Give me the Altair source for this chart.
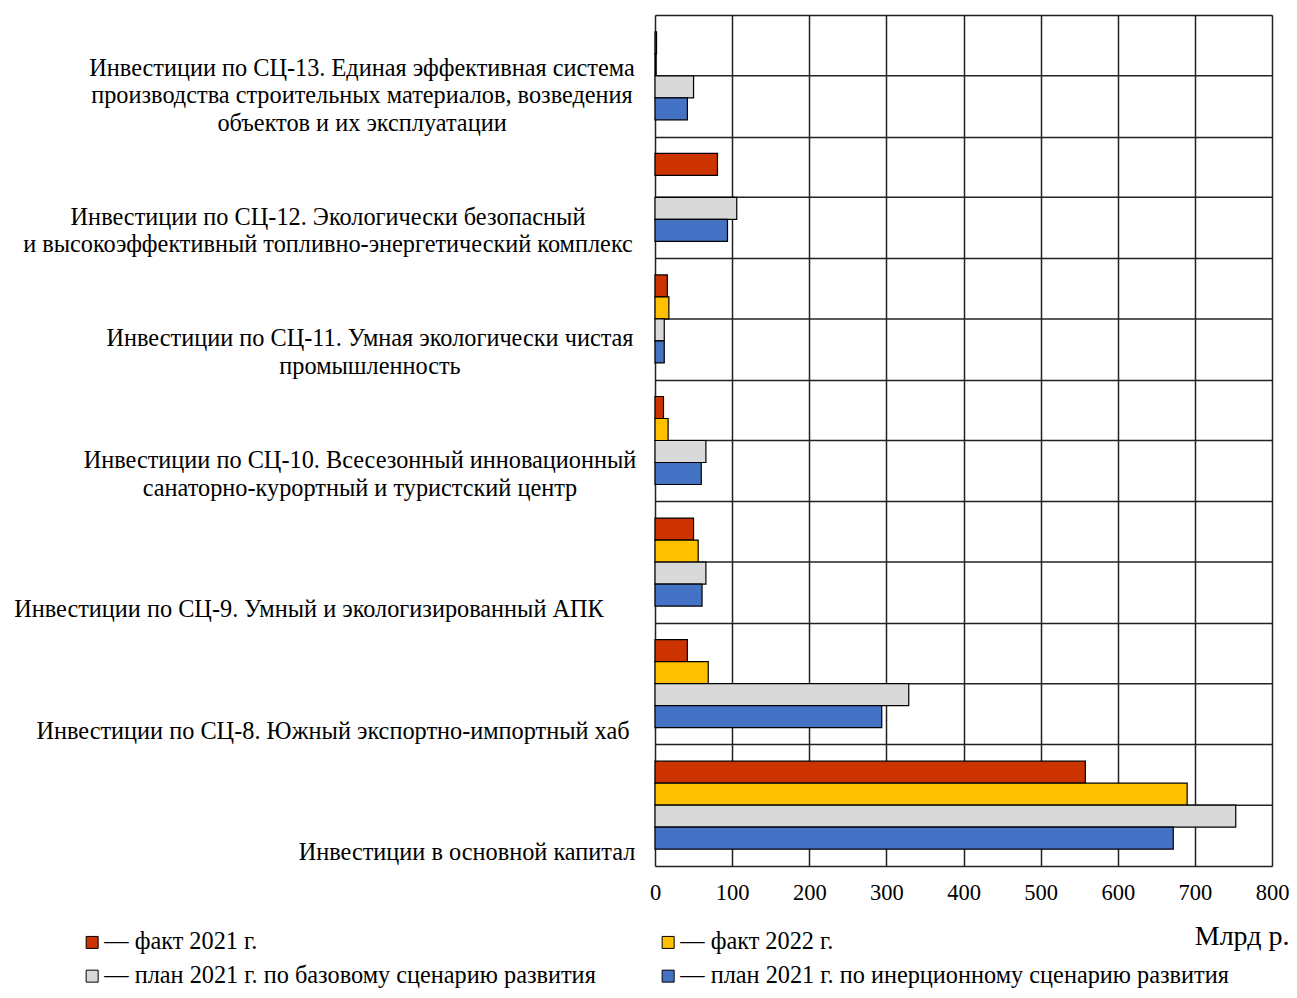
import altair as alt
import pandas as pd

categories = [
    "Инвестиции по СЦ-13. Единая эффективная система\nпроизводства строительных материалов, возведения\nобъектов и их эксплуатации",
    "Инвестиции по СЦ-12. Экологически безопасный\nи высокоэффективный топливно-энергетический комплекс",
    "Инвестиции по СЦ-11. Умная экологически чистая\nпромышленность",
    "Инвестиции по СЦ-10. Всесезонный инновационный\nсанаторно-курортный и туристский центр",
    "Инвестиции по СЦ-9. Умный и экологизированный АПК",
    "Инвестиции по СЦ-8. Южный экспортно-импортный хаб",
    "Инвестиции в основной капитал",
]
series = [
    "— факт 2021 г.",
    "— факт 2022 г.",
    "— план 2021 г. по базовому сценарию развития",
    "— план 2021 г. по инерционному сценарию развития",
]
fact_2021 = [2, 81, 16, 11, 50, 42, 558]
fact_2022 = [1.5, None, 18, 17, 56, 69, 690]
plan_base = [50, 106, 12, 66, 66, 329, 753]
plan_inert = [42, 94, 12, 60, 61, 294, 672]
colors = ["#CC3300", "#FFC000", "#D9D9D9", "#4472C4"]
x_ticks = [0, 100, 200, 300, 400, 500, 600, 700, 800]

# layout (not data): horizontal centre of each category label block, px from plot left
label_centers = [-293, -327, -285, -295, -346, -322, -188]

FONT = "Liberation Serif"
FS = 24.3
LH = 27.5
W, H = 617, 851

rows = []
for vals, s in zip([fact_2021, fact_2022, plan_base, plan_inert], series):
    for c, v in zip(categories, vals):
        if v is not None:
            rows.append({"cat": c, "series": s, "value": v})
df = pd.DataFrame(rows)
df_cat = pd.DataFrame({"cat": categories})

y_axis = alt.Axis(labels=False, ticks=False, domain=False, grid=True, tickBand="extent",
                  gridColor="#222", gridWidth=1.5, title=None)
y_enc = alt.Y("cat:N", sort=categories, scale=alt.Scale(paddingInner=0, paddingOuter=0), axis=y_axis)

bars = alt.Chart(df).mark_bar(stroke="black", strokeWidth=1.2).encode(
    y=y_enc,
    yOffset=alt.YOffset("series:N", sort=series,
                        scale=alt.Scale(paddingInner=0, paddingOuter=0.763)),
    x=alt.X("value:Q", scale=alt.Scale(domain=[0, 800], nice=False),
            axis=alt.Axis(values=x_ticks, grid=True, gridColor="#222", gridWidth=1.5,
                          ticks=False, domain=False, labelFont=FONT, labelFontSize=22.5,
                          labelColor="black", labelPadding=15, labelFlush=False,
                          title="Млрд р.", titleFont=FONT, titleFontSize=28,
                          titleFontWeight="normal", titleColor="black",
                          titleAlign="right", titleBaseline="alphabetic",
                          titleX=634, titleY=78)),
    color=alt.Color("series:N", sort=series,
                    scale=alt.Scale(domain=series, range=colors),
                    legend=alt.Legend(orient="none", legendX=-575, legendY=915,
                                      direction="horizontal",
                                      columns=2, columnPadding=60, rowPadding=9,
                                      symbolType="square", symbolSize=144,
                                      symbolStrokeColor="black", symbolStrokeWidth=1,
                                      labelFont=FONT, labelFontSize=FS, labelColor="black",
                                      labelLimit=0, labelOffset=0, padding=0, title=None)),
)

mid_rules = alt.Chart(df_cat).mark_rule(color="#222", strokeWidth=1.5).encode(
    y=y_enc, x=alt.value(0), x2=alt.value(W)
)

label_layers = []
for c, cx in zip(categories, label_centers):
    n_lines = c.count("\n") + 1
    label_layers.append(
        alt.Chart(df_cat).transform_filter(alt.datum.cat == c).mark_text(
            font=FONT, fontSize=FS, lineBreak="\n", lineHeight=LH, align="center",
            baseline="bottom", color="black", dy=60 - (n_lines - 1) * LH
        ).encode(y=y_enc, x=alt.value(cx), text="cat:N")
    )

chart = alt.layer(mid_rules, bars, *label_layers).properties(
    width=W, height=H,
    autosize=alt.AutoSizeParams(type="none"),
    padding={"left": 647, "top": 7, "right": 17, "bottom": 124},
).configure_view(stroke="#222", strokeWidth=1.5).configure(font=FONT)

chart.save("out.html", embed_options={"renderer": "svg", "actions": False})
